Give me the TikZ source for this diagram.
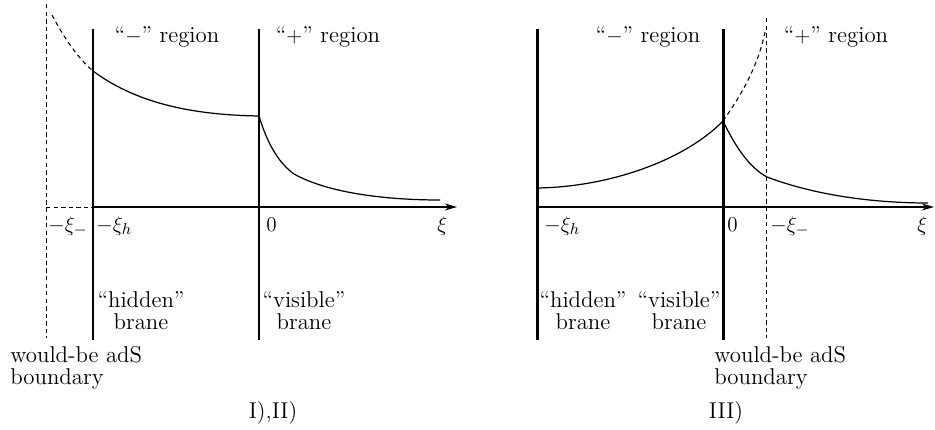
\documentclass[tikz,border=0pt]{standalone}
\usepackage{amsmath,amssymb}
\usepackage{tikz}
\usetikzlibrary{arrows.meta, positioning, calc}

\begin{document}
\begin{tikzpicture}[
    x=0.02cm, y=-0.02cm,
    brane/.style={line width=1.7pt},
    bound/.style={line width=0.5pt, dash pattern=on 2.5pt off 1.8pt},
    axis/.style={-{Stealth[length=7pt,width=4pt]}, line width=0.7pt},
    curve/.style={line width=0.7pt},
    ghost/.style={line width=0.6pt, dash pattern=on 2.5pt off 2pt},
    lbl/.style={font=\fontsize{13}{12.5}\selectfont, inner sep=0pt},
    tag/.style={font=\fontsize{13}{12.5}\selectfont, align=center, inner sep=0pt, anchor=north},
    note/.style={font=\fontsize{13}{12.5}\selectfont, align=left, inner sep=0pt, anchor=north west}
]
\useasboundingbox (0,0) rectangle (935,429);

% Coordinates, left panel
\coordinate (bndAt) at (46,4);
\coordinate (bndAb) at (46,338);
\coordinate (bndAx) at (46,207);
\coordinate (hidAt) at (93,29);
\coordinate (hidAb) at (93,340);
\coordinate (hidAx) at (93,207);
\coordinate (visAt) at (259,29);
\coordinate (visAb) at (259,340);
\coordinate (endA) at (457,207);

% Coordinates, right panel
\coordinate (hidBt) at (537,29);
\coordinate (hidBb) at (537,340);
\coordinate (hidBx) at (537,207);
\coordinate (visBt) at (723,29);
\coordinate (visBb) at (723,340);
\coordinate (bndBt) at (766,18);
\coordinate (bndBb) at (766,338);
\coordinate (endB) at (934,207);

% Branes and boundaries
\draw [bound] (bndAt) -- (bndAb);
\draw [brane] (hidAt) -- (hidAb);
\draw [brane] (visAt) -- (visAb);
\draw [brane] (hidBt) -- (hidBb);
\draw [brane] (visBt) -- (visBb);
\draw [bound] (bndBt) -- (bndBb);

% Axes
\draw [bound] (bndAx) -- (hidAx);
\draw [axis] (hidAx) -- (endA);
\draw [axis] (hidBx) -- (endB);

% Warp factor, left panel
\coordinate (wA0) at (52,15);
\coordinate (wA1) at (93,71);
\coordinate (wA2) at (259,116);
\coordinate (wA3) at (294,174);
\coordinate (wA4) at (440,200);
\draw [ghost] (wA0) .. controls (64,38) and (78,58) .. (wA1);
\draw [curve] (wA1) .. controls (140,106) and (200,115) .. (wA2);
\draw [curve] (wA2) .. controls (268,146) and (280,164) .. (wA3)
    .. controls (330,194) and (390,200) .. (wA4);

% Warp factor, right panel
\coordinate (wB0) at (537,188);
\coordinate (wB1) at (723,121);
\coordinate (wB2) at (765,32);
\coordinate (wB3) at (767,177);
\coordinate (wB4) at (928,203);
\draw [curve] (wB0) .. controls (610,187) and (685,160) .. (wB1);
\draw [ghost] (wB1) .. controls (742,94) and (758,66) .. (wB2);
\draw [curve] (wB1) .. controls (736,148) and (750,168) .. (wB3)
    .. controls (820,197) and (880,203) .. (wB4);

% Region labels
\node (minA) [lbl, anchor=base] at (167,43) {“$-$” region};
\node (plsA) [lbl, anchor=base] at (328,43) {“$+$” region};
\node (minB) [lbl, anchor=base] at (648,43) {“$-$” region};
\node (plsB) [lbl, anchor=base] at (836,43) {“$+$” region};

% Axis labels
\node (xmA) [lbl, anchor=base west] at (48,231) {$-\xi_-$};
\node (xhA) [lbl, anchor=base west] at (96,231) {$-\xi_h$};
\node (zeA) [lbl, anchor=base west] at (266,231) {$0$};
\node (xiA) [lbl, anchor=base west] at (437,231) {$\xi$};
\node (xhB) [lbl, anchor=base west] at (544,231) {$-\xi_h$};
\node (zeB) [lbl, anchor=base west] at (727,231) {$0$};
\node (xmB) [lbl, anchor=base west] at (770,231) {$-\xi_-$};
\node (xiB) [lbl, anchor=base west] at (917,231) {$\xi$};

% Brane labels
\node (hidAl) [tag] at (141,291) {“hidden”\\brane};
\node (visAl) [tag] at (304,291) {“visible”\\brane};
\node (hidBl) [tag] at (583,291) {“hidden”\\brane};
\node (visBl) [tag] at (679,291) {“visible”\\brane};
\node (bndAl) [note] at (10,346) {would-be adS\\boundary};
\node (bndBl) [note] at (714,346) {would-be adS\\boundary};

% Case labels
\node (caseA) [tag] at (273,401) {I),II)};
\node (caseB) [tag] at (726,401) {III)};

\end{tikzpicture}
\end{document}
